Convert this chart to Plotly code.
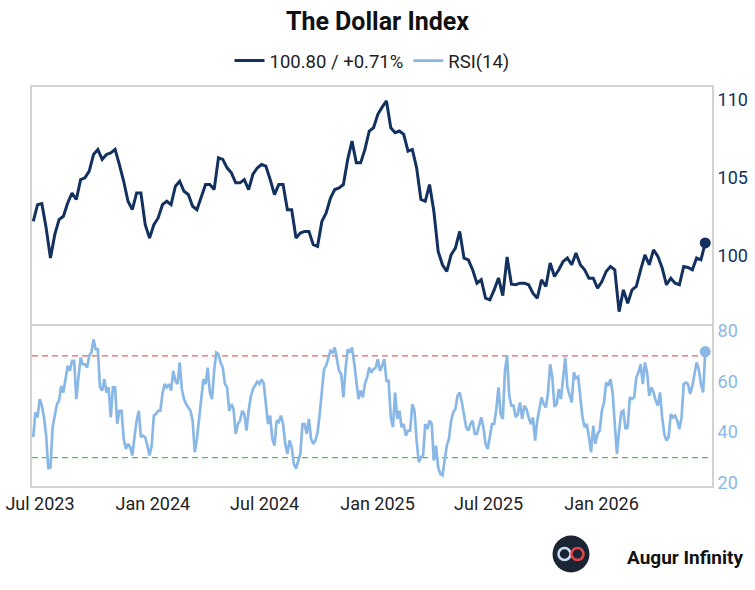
import pandas as pd
import plotly.graph_objects as go

# ---------------- data ----------------
start_date, end_date = "2023-06-20", "2026-06-19"

dxy_values = [
    102.18, 103.25, 103.32, 101.76, 99.83, 101.33, 102.29, 102.51, 103.36, 104.00,
    103.58, 104.86, 104.97, 105.40, 106.47, 106.79, 106.15, 106.47, 106.57, 106.79,
    105.82, 104.75, 103.47, 102.93, 104.00, 104.00, 101.97, 101.11, 101.97, 102.40,
    103.25, 103.47, 103.25, 104.43, 104.75, 104.11, 103.90, 103.15, 102.93, 103.79,
    104.54, 104.54, 104.22, 106.25, 106.15, 105.61, 105.29, 104.65, 104.65, 104.86,
    104.22, 105.20, 105.60, 105.82, 105.72, 104.86, 103.90, 104.54, 104.54, 102.93,
    102.93, 101.11, 101.43, 101.54, 101.54, 100.69, 100.58, 102.18, 102.72, 103.68,
    104.22, 104.33, 104.54, 106.15, 107.32, 105.93, 105.93, 106.79, 107.97, 108.18,
    109.04, 109.50, 109.90, 108.18, 107.86, 107.97, 107.75, 106.68, 106.79, 105.61,
    103.58, 103.47, 104.54, 102.83, 100.26, 99.40, 98.97, 100.04, 100.47, 101.54,
    99.83, 99.72, 99.08, 98.22, 98.44, 97.26, 97.15, 97.79, 98.56, 97.42,
    99.90, 98.16, 98.12, 98.22, 98.22, 98.12, 97.58, 97.26, 98.44, 98.01,
    99.51, 98.65, 99.08, 99.61, 99.83, 99.40, 100.15, 99.40, 99.08, 98.54,
    98.54, 97.90, 98.33, 98.97, 99.29, 99.08, 96.40, 97.79, 96.94, 97.79,
    98.01, 99.08, 100.04, 99.40, 100.36, 99.94, 99.19, 98.12, 98.54, 98.22,
    98.12, 99.29, 99.23, 99.08, 99.83, 99.72, 100.80,
]

rsi_values = [
    38.0, 47.8, 45.8, 53.0, 50.4, 45.8, 38.6, 25.6, 26.2, 41.9,
    46.5, 51.0, 52.4, 58.2, 55.6, 60.2, 66.1, 64.1, 68.0, 68.0,
    53.0, 61.5, 69.3, 66.7, 66.7, 65.4, 70.0, 71.3, 76.5, 72.6,
    72.6, 57.6, 56.3, 60.8, 55.6, 57.6, 45.8, 57.6, 57.6, 43.2,
    48.4, 48.4, 37.3, 33.4, 35.4, 34.1, 30.8, 38.0, 44.5, 48.4,
    38.0, 38.6, 38.0, 34.7, 30.8, 34.7, 46.5, 47.1, 48.4, 48.4,
    55.0, 58.9, 57.6, 58.9, 56.3, 64.1, 60.2, 58.9, 67.4, 56.9,
    53.0, 51.0, 49.7, 48.4, 44.5, 32.1, 37.3, 45.2, 51.0, 60.8,
    58.9, 65.4, 55.6, 53.0, 64.1, 71.3, 70.7, 67.4, 65.4, 58.9,
    57.6, 48.4, 51.0, 49.1, 39.3, 43.2, 44.5, 48.4, 47.1, 40.6,
    48.4, 54.0, 56.9, 58.2, 59.9, 58.9, 60.8, 59.2, 49.7, 43.2,
    46.5, 37.3, 34.7, 44.5, 43.9, 46.5, 43.2, 35.4, 31.4, 36.7,
    34.1, 27.5, 25.6, 28.2, 31.4, 43.2, 43.2, 39.3, 45.2, 37.3,
    35.4, 36.7, 39.9, 47.1, 57.6, 64.8, 66.1, 68.7, 72.0, 71.3,
    73.3, 68.7, 64.1, 62.8, 53.7, 64.8, 72.6, 71.3, 73.3, 67.4,
    60.2, 53.0, 56.3, 53.7, 58.9, 61.5, 65.4, 63.5, 64.8, 65.4,
    68.7, 64.1, 66.1, 68.7, 60.2, 60.2, 45.8, 41.9, 55.6, 45.2,
    48.4, 41.9, 43.2, 38.6, 40.6, 40.6, 51.0, 48.4, 36.7, 28.2,
    30.1, 30.8, 43.2, 41.2, 44.5, 43.2, 28.8, 34.7, 26.2, 23.6,
    23.0, 28.8, 34.7, 37.3, 44.5, 47.8, 49.1, 54.3, 55.6, 51.7,
    47.1, 41.9, 40.6, 43.2, 44.5, 39.3, 39.3, 42.5, 45.8, 41.9,
    35.4, 33.4, 39.3, 43.2, 43.2, 49.1, 57.6, 47.1, 45.2, 64.1,
    70.0, 54.3, 50.4, 50.4, 45.8, 47.1, 51.7, 45.2, 50.4, 49.1,
    45.8, 43.2, 45.8, 36.7, 44.5, 49.1, 53.7, 51.0, 49.7, 55.6,
    66.7, 61.5, 50.0, 51.0, 56.9, 53.0, 61.5, 69.3, 57.6, 54.3,
    51.7, 63.5, 61.2, 61.8, 53.0, 45.8, 41.9, 43.2, 38.0, 32.1,
    42.5, 35.4, 39.3, 40.6, 48.4, 51.7, 59.5, 58.2, 60.8, 55.6,
    43.2, 31.4, 40.6, 47.8, 48.4, 41.2, 41.9, 53.7, 53.0, 53.7,
    61.5, 63.5, 66.7, 58.9, 67.4, 63.5, 54.3, 57.6, 55.6, 52.4,
    50.4, 55.6, 45.8, 39.3, 36.7, 38.0, 47.1, 45.8, 46.5, 44.5,
    41.2, 45.8, 58.9, 59.5, 58.9, 55.0, 58.2, 62.8, 67.4, 64.8,
    58.9, 55.6, 71.7,
]

dxy_dates = pd.date_range(start_date, end_date, periods=len(dxy_values))
rsi_dates = pd.date_range(start_date, end_date, periods=len(rsi_values))

tick_dates = ["2023-07-01", "2024-01-01", "2024-07-01", "2025-01-01", "2025-07-01", "2026-01-01"]
tick_labels = ["Jul 2023", "Jan 2024", "Jul 2024", "Jan 2025", "Jul 2025", "Jan 2026"]
dxy_ticks = [100, 105, 110]
rsi_ticks = [20, 40, 60, 80]
rsi_overbought = 70
rsi_oversold = 30

title_text = "The Dollar Index"
dxy_name = "100.80 / +0.71%"
rsi_name = "RSI(14)"
brand = "Augur Infinity"

# ---------------- style ----------------
NAVY = "#12315f"
LIGHT = "#8ab8e6"
BORDER = "#d2d2d2"
FONT = "Roboto"

fig = go.Figure()

fig.add_trace(go.Scatter(x=dxy_dates, y=dxy_values, mode="lines", name=dxy_name,
                         line=dict(color=NAVY, width=3), xaxis="x2", yaxis="y2"))
fig.add_trace(go.Scatter(x=rsi_dates, y=rsi_values, mode="lines", name=rsi_name,
                         line=dict(color=LIGHT, width=2.7), xaxis="x", yaxis="y"))
fig.add_trace(go.Scatter(x=[dxy_dates[-1]], y=[dxy_values[-1]], mode="markers",
                         marker=dict(color=NAVY, size=11), showlegend=False,
                         xaxis="x2", yaxis="y2"))
fig.add_trace(go.Scatter(x=[rsi_dates[-1]], y=[rsi_values[-1]], mode="markers",
                         marker=dict(color=LIGHT, size=11), showlegend=False,
                         xaxis="x", yaxis="y"))

axis_common = dict(showline=True, mirror=True, linecolor=BORDER, linewidth=2,
                   showgrid=False, zeroline=False, ticks="", automargin=False)

x_range = ["2023-06-18", "2026-06-30"]

fig.update_layout(
    width=755, height=590, autosize=False,
    margin=dict(l=32, r=43, t=87, b=104, autoexpand=False),
    paper_bgcolor="white", plot_bgcolor="white",
    font=dict(family=FONT, color="#222222"),
    title=dict(text="<b>" + title_text + "</b>", x=0.5, xref="container", xanchor="center",
               y=1 - 21 / 590, yref="container", yanchor="middle",
               font=dict(size=25, color="#111111", family=FONT)),
    legend=dict(orientation="h", x=0.5, xanchor="center", xref="paper",
                y=1 - 61 / 590, yref="container", yanchor="middle",
                font=dict(size=18.5, color="#222222", family=FONT),
                bgcolor="rgba(0,0,0,0)"),
    showlegend=True,
    xaxis=dict(domain=[0, 1], anchor="y", range=x_range, type="date",
               tickvals=tick_dates, ticktext=tick_labels,
               tickfont=dict(size=18, color="#222222"), **axis_common),
    xaxis2=dict(domain=[0, 1], anchor="y2", range=x_range, type="date", matches="x",
                showticklabels=False, **axis_common),
    yaxis=dict(domain=[0, 0.40], anchor="x", side="right", range=[18.8, 81.6],
               tickvals=rsi_ticks, tickfont=dict(size=18, color=LIGHT), **axis_common),
    yaxis2=dict(domain=[0.405, 1], anchor="x2", side="right", range=[95.58, 110.79],
                tickvals=dxy_ticks, tickfont=dict(size=18, color=NAVY), **axis_common),
    hovermode=False,
)

# RSI reference levels
for lvl, col in [(rsi_overbought, "#e06666"), (rsi_oversold, "#5cb85c")]:
    fig.add_shape(type="line", xref="paper", x0=0, x1=1, yref="y", y0=lvl, y1=lvl,
                  line=dict(color=col, width=1.3, dash="6px,4px"), layer="below")

# Logo (bottom right)
lx = (571 - 32) / 680
ly = (486 - 554) / 399
fig.add_shape(type="circle", xref="paper", yref="paper", xsizemode="pixel", ysizemode="pixel",
              xanchor=lx, yanchor=ly, x0=-18.5, x1=18.5, y0=-18.5, y1=18.5,
              fillcolor="#1b2433", line=dict(width=0))
fig.add_shape(type="circle", xref="paper", yref="paper", xsizemode="pixel", ysizemode="pixel",
              xanchor=lx, yanchor=ly, x0=-12.5, x1=-0.5, y0=-6, y1=6,
              line=dict(color="#c9dcf2", width=2.5))
fig.add_shape(type="circle", xref="paper", yref="paper", xsizemode="pixel", ysizemode="pixel",
              xanchor=lx, yanchor=ly, x0=0.5, x1=12.5, y0=-6, y1=6,
              line=dict(color="#e0454a", width=2.5))
fig.add_annotation(text="<b>" + brand + "</b>", xref="paper", yref="paper",
                   x=(625 - 32) / 680, y=(486 - 557) / 399, xanchor="left", yanchor="middle",
                   showarrow=False, font=dict(size=19, color="#111111", family=FONT))

fig.write_html("out.html")
